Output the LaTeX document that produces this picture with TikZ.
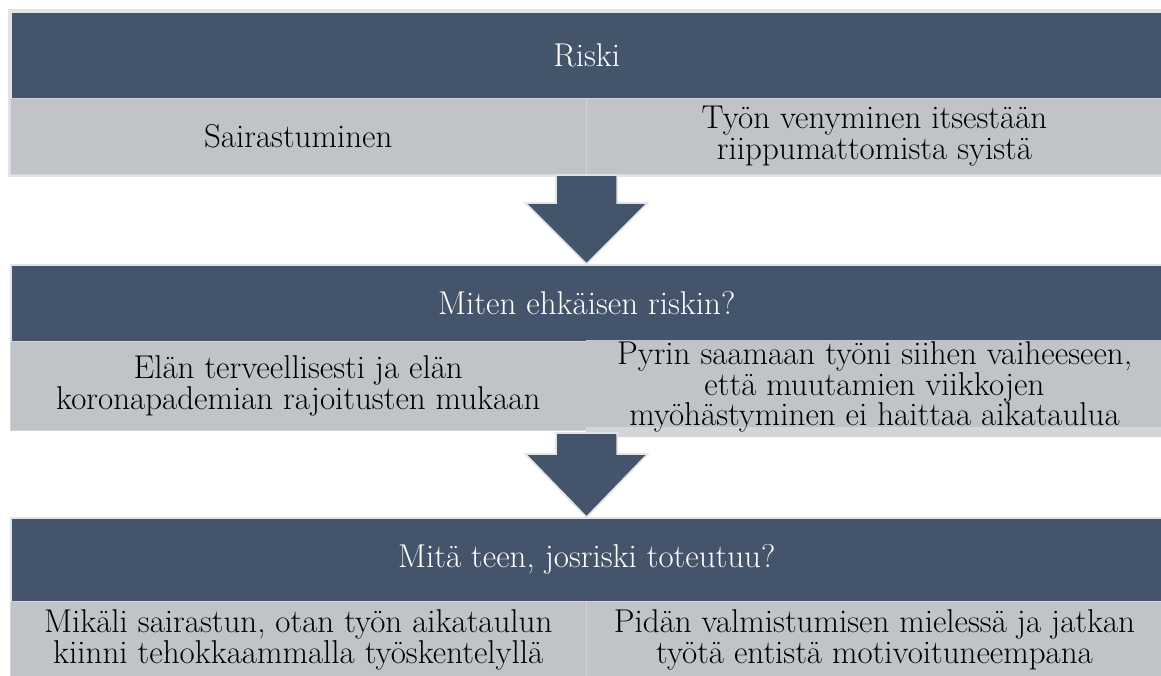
\documentclass[tikz,border=0pt]{standalone}
\usepackage{fontspec}
\usetikzlibrary{calc}
\definecolor{darkblue}{HTML}{44546A}
\definecolor{cellgrey}{HTML}{C0C3C8}
\definecolor{edgegrey}{HTML}{E2E3E4}
\definecolor{divgrey}{HTML}{D2D4D7}
\definecolor{overflowgrey}{HTML}{D3D5D8}
\tikzset{
  hdr/.style={fill=darkblue, draw=edgegrey, line width=1.5pt, text=white,
    inner sep=0pt, anchor=north west, font=\fontsize{33}{31}\selectfont},
  cellbox/.style={fill=cellgrey, draw=divgrey, line width=1pt, text=black,
    inner sep=0pt, anchor=north west, align=center, font=\fontsize{33}{31}\selectfont},
  blockarrow/.style={fill=darkblue, draw=edgegrey, line width=1.5pt, line join=miter},
}
\begin{document}
\begin{tikzpicture}[x=1pt,y=-1pt]
\useasboundingbox (0,0) rectangle (1161,675);
\clip (0,0) rectangle (1161,675);
% outer light frame of section 1
\fill[edgegrey] (8,9) rectangle (1163,177);
% section 1
\node[hdr, minimum width=1152pt, minimum height=87pt] (h1) at (10,11) {Riski};
\node[cellbox, minimum width=575.5pt, minimum height=76pt] (c1l) at (10,98) {Sairastuminen};
\node[cellbox, minimum width=577pt, minimum height=76pt] (c1r) at (585.5,98) {Työn venyminen itsestään\\riippumattomista syistä};
% arrow 1
\coordinate (a1) at (c1l.south east);
\node[hdr, minimum width=1152pt, minimum height=77pt] (h2) at (10,264) {Miten ehkäisen riskin?};
\fill[blockarrow] ($(a1)+(-30.5,0)$) -- ($(a1)+(30.5,0)$) -- ($(a1)+(30.5,28)$) -- ($(a1)+(61,28)$)
  -- (a1 |- h2.north) -- ($(a1)+(-61,28)$) -- ($(a1)+(-30.5,28)$) -- cycle;
\draw[blockarrow] ($(a1)+(-30.5,0)$) -- ($(a1)+(30.5,0)$) -- ($(a1)+(30.5,28)$) -- ($(a1)+(61,28)$)
  -- (a1 |- h2.north) -- ($(a1)+(-61,28)$) -- ($(a1)+(-30.5,28)$) -- cycle;
\node[hdr, minimum width=1152pt, minimum height=77pt] at (10,264) {Miten ehkäisen riskin?};
% section 2 cells
\fill[overflowgrey] (585.5,426) rectangle (1163,437);
\node[cellbox, minimum width=575.5pt, minimum height=89pt] (c2l) at (10,341) {Elän terveellisesti ja elän\\koronapademian rajoitusten mukaan};
\node[cellbox, draw=none, minimum width=577pt, minimum height=87pt] (c2r) at (585.5,339) {};
\node[align=center, text=black, inner sep=0pt, font=\fontsize{33}{29}\selectfont] (t2r) at (c2r.center) [yshift=-4pt] {Pyrin saamaan työni siihen vaiheeseen,\\että muutamien viikkojen\\myöhästyminen ei haittaa aikataulua};
% arrow 2
\coordinate (a2) at ($(c2l.south east)+(0,2)$);
\node[hdr, minimum width=1152pt, minimum height=84pt] (h3) at (10,517) {Mitä teen, josriski toteutuu?};
\fill[blockarrow] ($(a2)+(-30.5,0)$) -- ($(a2)+(30.5,0)$) -- ($(a2)+(30.5,21)$) -- ($(a2)+(61,21)$)
  -- (a2 |- h3.north) -- ($(a2)+(-61,21)$) -- ($(a2)+(-30.5,21)$) -- cycle;
\draw[blockarrow] ($(a2)+(-30.5,0)$) -- ($(a2)+(30.5,0)$) -- ($(a2)+(30.5,21)$) -- ($(a2)+(61,21)$)
  -- (a2 |- h3.north) -- ($(a2)+(-61,21)$) -- ($(a2)+(-30.5,21)$) -- cycle;
\node[hdr, minimum width=1152pt, minimum height=84pt] at (10,517) {Mitä teen, josriski toteutuu?};
% section 3 cells
\node[cellbox, minimum width=575.5pt, minimum height=76pt] (c3l) at (10,601) {Mikäli sairastun, otan työn aikataulun\\kiinni tehokkaammalla työskentelyllä};
\node[cellbox, minimum width=577pt, minimum height=76pt] (c3r) at (585.5,601) {Pidän valmistumisen mielessä ja jatkan\\työtä entistä motivoituneempana};
\end{tikzpicture}
\end{document}
